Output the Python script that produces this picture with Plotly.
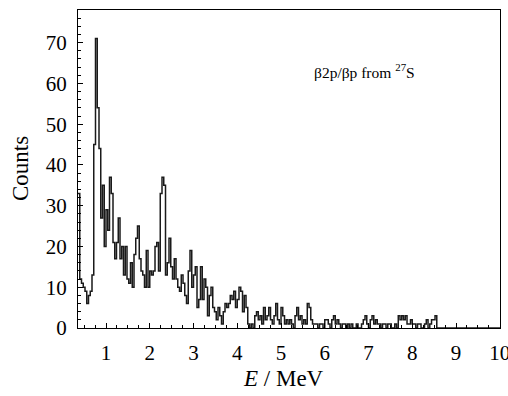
import plotly.graph_objects as go

# Histogram: bin width 0.04 MeV starting at 0.36 MeV
bin_start = 0.36
bin_width = 0.04
counts = [
    33, 12, 11, 10, 9, 6, 8, 9, 13, 45,          # 0.36 - 0.72
    71, 54, 44, 27, 35, 20, 29, 24, 37, 33,      # 0.76 - 1.12
    21, 17, 21, 27, 17, 20, 13, 20, 12, 11,      # 1.16 - 1.52
    16, 10, 18, 22, 25, 17, 14, 13, 10, 19,      # 1.56 - 1.92
    10, 14, 13, 14, 20, 21, 14, 33, 37, 35,      # 1.96 - 2.32
    13, 16, 22, 15, 12, 17, 12, 10, 9, 13,       # 2.36 - 2.72
    11, 8, 6, 14, 19, 10, 13, 15, 5, 7,          # 2.76 - 3.12
    15, 7, 12, 10, 3, 8, 10, 5, 4, 2,            # 3.16 - 3.52
    5, 3, 1, 4, 6, 5, 6, 8, 7, 9,                # 3.56 - 3.92
    5, 7, 10, 9, 4, 8, 5, 1, 0, 1,               # 3.96 - 4.32
    0, 3, 4, 2, 3, 1, 5, 2, 3, 5,                # 4.36 - 4.72
    2, 1, 3, 6, 2, 1, 5, 3, 1, 2,                # 4.76 - 5.12
    1, 2, 1, 0, 3, 5, 2, 3, 1, 2,                # 5.16 - 5.52
    1, 6, 5, 2, 1, 1, 1, 0, 1, 1,                # 5.56 - 5.92
    0, 2, 2, 1, 0, 2, 3, 1, 2, 1,                # 5.96 - 6.32
    0, 1, 1, 0, 1, 0, 1, 0, 0, 1,                # 6.36 - 6.72
    0, 0, 1, 2, 3, 1, 0, 2, 3, 1,                # 6.76 - 7.12
    2, 1, 1, 0, 1, 1, 0, 1, 1, 0,                # 7.16 - 7.52
    0, 1, 0, 3, 2, 3, 2, 3, 1, 1,                # 7.56 - 7.92
    2, 1, 1, 0, 1, 1, 0, 0, 1, 2,                # 7.96 - 8.32
    0, 1, 2, 2, 3, 0,                            # 8.36 - 8.56
]

x_range = [0.36, 10.005]
y_range = [0, 78]
x_ticks = [1, 2, 3, 4, 5, 6, 7, 8, 9, 10]
y_ticks = [0, 10, 20, 30, 40, 50, 60, 70]

# step outline built from the bin edges
n = len(counts)
edges = [bin_start + i * bin_width for i in range(n + 1)]
edges.append(x_range[1])
ys = counts + [0, 0]

font_family = "Liberation Serif, Times New Roman, serif"

fig = go.Figure()
fig.add_trace(go.Scatter(
    x=edges, y=ys, mode="lines", line_shape="hv",
    line=dict(color="#1a1a1a", width=1.5),
    showlegend=False, hoverinfo="skip",
))

axis_common = dict(
    showline=True, linecolor="black", linewidth=1, mirror=True,
    showgrid=False, zeroline=False, automargin=False,
    ticks="inside", ticklen=5, tickwidth=1, tickcolor="black",
    tickfont=dict(family=font_family, size=21, color="black"),
    ticklabeloverflow="allow",
)

fig.update_layout(
    width=508, height=396,
    margin=dict(l=78, r=8, t=10, b=68),
    paper_bgcolor="white", plot_bgcolor="white",
    font=dict(family=font_family, color="black"),
    xaxis=dict(
        range=x_range, tickmode="array", tickvals=x_ticks,
        ticktext=[str(t) for t in x_ticks],
        ticklabelstandoff=6,
        minor=dict(dtick=0.25, ticks="inside", ticklen=3, tickcolor="black"),
        **axis_common,
    ),
    yaxis=dict(
        range=y_range, tickmode="array", tickvals=y_ticks,
        ticktext=[str(t) for t in y_ticks],
        ticklabelstandoff=6,
        minor=dict(dtick=2, ticks="inside", ticklen=3, tickcolor="black"),
        **axis_common,
    ),
    annotations=[
        dict(
            x=0.555, y=63, xref="paper", yref="y", xanchor="left", yanchor="middle",
            text="β2p/βp from <sup>27</sup>S", showarrow=False,
            font=dict(family=font_family, size=15.5, color="black"),
        ),
        dict(
            x=0, y=0.5, xref="paper", yref="paper", xanchor="center", yanchor="middle",
            xshift=-58, textangle=-90, text="Counts", showarrow=False,
            font=dict(family=font_family, size=23, color="black"),
        ),
        dict(
            x=0.5, y=0, xref="paper", yref="paper", xanchor="center", yanchor="middle",
            xshift=-6, yshift=-50, text="<i>E</i> / MeV", showarrow=False,
            font=dict(family=font_family, size=23, color="black"),
        ),
    ],
)

# remove the browser's default 8px page margin so the figure fills the window
fig.write_html(
    "out.html",
    config=dict(displayModeBar=False),
    post_script="document.body.style.margin='0';document.body.style.overflow='hidden';",
)
